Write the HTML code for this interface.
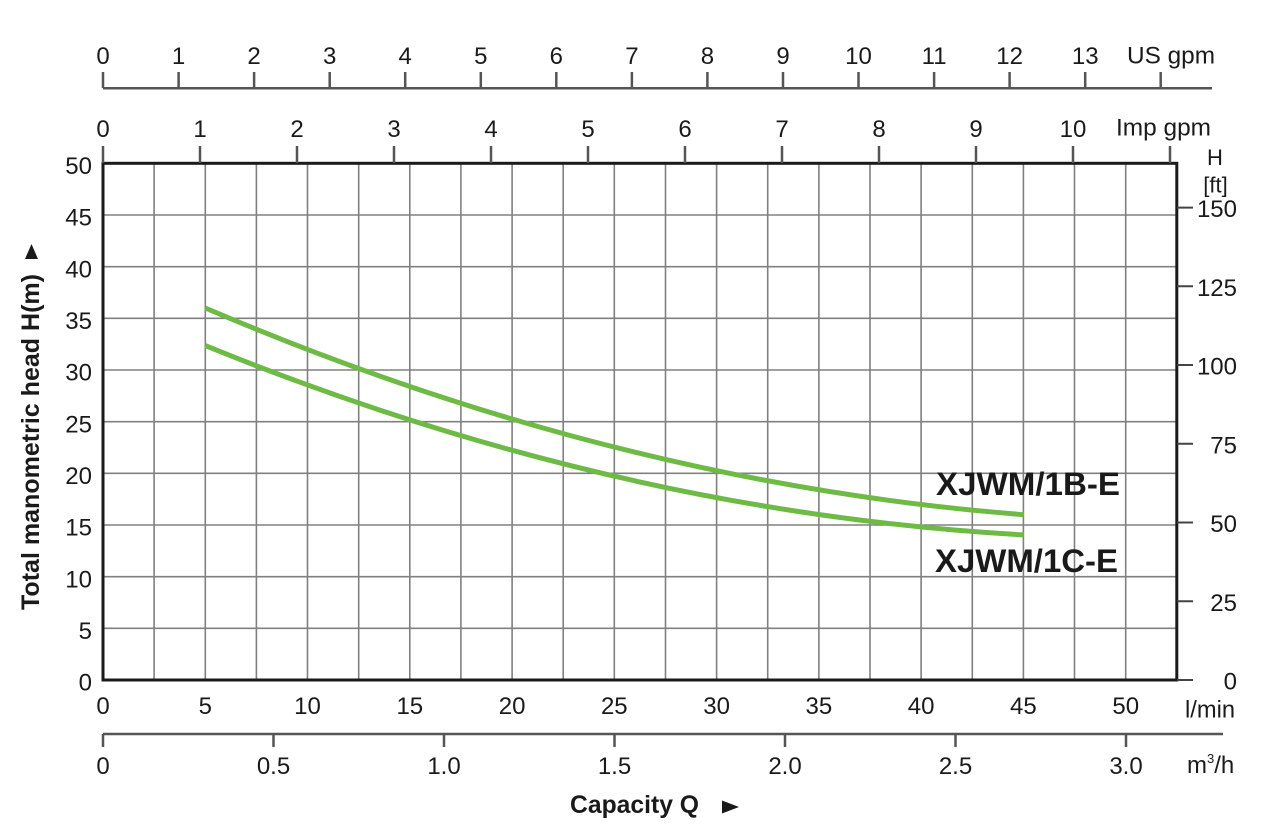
<!DOCTYPE html>
<html><head><meta charset="utf-8"><style>
html,body{margin:0;padding:0;background:#fff;}
svg{display:block;}
text{font-family:"Liberation Sans",Arial,sans-serif;fill:#1a1a1a;}
</style></head><body>
<svg width="1280" height="838" viewBox="0 0 1280 838" xmlns="http://www.w3.org/2000/svg">
<rect width="1280" height="838" fill="#fff"/>
<!-- grid -->
<g stroke="#808080" stroke-width="1.6">
<path d="M154.1 163V680M205.3 163V680M256.4 163V680M307.5 163V680M358.7 163V680M409.8 163V680M460.9 163V680M512.1 163V680M563.2 163V680M614.3 163V680M665.5 163V680M716.6 163V680M767.7 163V680M818.9 163V680M870 163V680M921.1 163V680M972.3 163V680M1023.4 163V680M1074.5 163V680M1125.7 163V680"/>
<path d="M103 628.3H1177M103 576.7H1177M103 525H1177M103 473.3H1177M103 421.7H1177M103 370H1177M103 318.3H1177M103 266.7H1177M103 215H1177"/>
</g>
<!-- curves -->
<g fill="none" stroke="#6dbb45" stroke-width="5">
<path d="M205.3 308 Q614.5 482.9 1023.7 514.7"/>
<path d="M205.3 345.6 Q614.5 512.2 1023.7 534.9"/>
</g>
<!-- frame -->
<rect x="103" y="163.3" width="1073.8" height="516.7" fill="none" stroke="#1a1a1a" stroke-width="3"/>
<!-- right ft ticks -->
<g stroke="#444" stroke-width="2">
<path d="M1177 680H1193M1177 601.3H1193M1177 522.5H1193M1177 443.8H1193M1177 365H1193M1177 286.3H1193M1177 207.6H1193"/>
</g>
<!-- US gpm axis -->
<g stroke="#555" stroke-width="2.5" fill="none">
<path d="M103 88.3H1212"/>
<path d="M103 72V88M178.6 72V88M254.1 72V88M329.7 72V88M405.2 72V88M480.8 72V88M556.3 72V88M631.9 72V88M707.4 72V88M783 72V88M858.5 72V88M934.1 72V88M1009.6 72V88M1085.2 72V88M1160.7 72V88"/>
<!-- Imp gpm ticks -->
<path d="M103 146V163M200 146V163M297 146V163M394 146V163M491 146V163M588 146V163M685 146V163M782 146V163M879 146V163M976 146V163M1073 146V163M1170 146V163"/>
<!-- m3/h axis -->
<path d="M103 734H1223"/>
<path d="M103 734V747M273.5 734V747M444 734V747M614.5 734V747M785 734V747M955.5 734V747M1126 734V747"/>
</g>
<!-- US gpm labels -->
<g font-size="24" text-anchor="middle">
<text x="103" y="64">0</text><text x="178.6" y="64">1</text><text x="254.1" y="64">2</text><text x="329.7" y="64">3</text><text x="405.2" y="64">4</text><text x="480.8" y="64">5</text><text x="556.3" y="64">6</text><text x="631.9" y="64">7</text><text x="707.4" y="64">8</text><text x="783" y="64">9</text><text x="858.5" y="64">10</text><text x="934.1" y="64">11</text><text x="1009.6" y="64">12</text><text x="1085.2" y="64">13</text>
</g>
<text x="1127" y="63.5" font-size="24" textLength="88" lengthAdjust="spacingAndGlyphs">US gpm</text>
<!-- Imp gpm labels -->
<g font-size="24" text-anchor="middle">
<text x="103" y="137">0</text><text x="200" y="137">1</text><text x="297" y="137">2</text><text x="394" y="137">3</text><text x="491" y="137">4</text><text x="588" y="137">5</text><text x="685" y="137">6</text><text x="782" y="137">7</text><text x="879" y="137">8</text><text x="976" y="137">9</text><text x="1073" y="137">10</text>
</g>
<text x="1116" y="135.5" font-size="24" textLength="95" lengthAdjust="spacingAndGlyphs">Imp gpm</text>
<!-- left axis labels -->
<g font-size="24" text-anchor="end">
<text x="92" y="174">50</text><text x="92" y="225.7">45</text><text x="92" y="277.4">40</text><text x="92" y="329">35</text><text x="92" y="380.7">30</text><text x="92" y="432.4">25</text><text x="92" y="484">20</text><text x="92" y="535.7">15</text><text x="92" y="587.4">10</text><text x="92" y="639">5</text><text x="92" y="690.7">0</text>
</g>
<!-- right ft labels -->
<g font-size="24" text-anchor="end">
<text x="1237" y="689.5">0</text><text x="1237" y="610.8">25</text><text x="1237" y="532">50</text><text x="1237" y="453.3">75</text><text x="1237" y="374.5">100</text><text x="1237" y="295.8">125</text><text x="1237" y="217">150</text>
</g>
<text x="1215" y="165" font-size="22" text-anchor="middle">H</text>
<text x="1215.5" y="192.5" font-size="22" text-anchor="middle">[ft]</text>
<!-- l/min labels -->
<g font-size="24" text-anchor="middle">
<text x="103" y="714">0</text><text x="205.3" y="714">5</text><text x="307.5" y="714">10</text><text x="409.8" y="714">15</text><text x="512.1" y="714">20</text><text x="614.3" y="714">25</text><text x="716.6" y="714">30</text><text x="818.9" y="714">35</text><text x="921.1" y="714">40</text><text x="1023.4" y="714">45</text><text x="1125.7" y="714">50</text>
</g>
<text x="1185" y="717.5" font-size="24" textLength="50" lengthAdjust="spacingAndGlyphs">l/min</text>
<!-- m3/h labels -->
<g font-size="24" text-anchor="middle">
<text x="103" y="774">0</text><text x="273.5" y="774">0.5</text><text x="444" y="774">1.0</text><text x="614.5" y="774">1.5</text><text x="785" y="774">2.0</text><text x="955.5" y="774">2.5</text><text x="1126" y="774">3.0</text>
</g>
<text x="1187" y="773" font-size="24">m<tspan font-size="13" dy="-10">3</tspan><tspan dy="10">/h</tspan></text>
<!-- curve labels -->
<text x="936" y="495" font-size="32.5" font-weight="bold" textLength="184" lengthAdjust="spacingAndGlyphs">XJWM/1B-E</text>
<text x="935" y="572" font-size="32.5" font-weight="bold" textLength="183" lengthAdjust="spacingAndGlyphs">XJWM/1C-E</text>
<!-- axis titles -->
<text x="570" y="813" font-size="25" font-weight="bold" textLength="129" lengthAdjust="spacingAndGlyphs">Capacity Q</text>
<polygon points="722,800.5 739,807 722,813.5" fill="#1a1a1a"/>
<text transform="translate(39,610) rotate(-90)" font-size="25" font-weight="bold" textLength="336" lengthAdjust="spacingAndGlyphs">Total manometric head H(m)</text>
<polygon points="31.5,244 25,259 38,259" fill="#1a1a1a"/>
</svg>
</body></html>
